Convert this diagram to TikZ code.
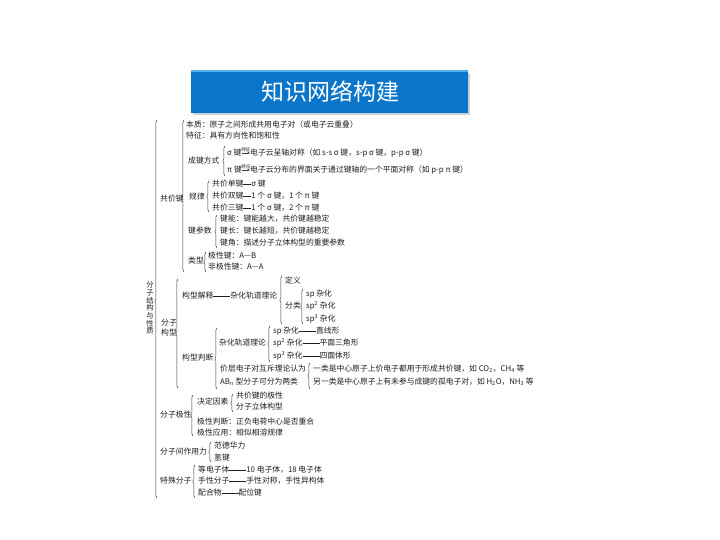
\documentclass[tikz,border=0pt]{standalone}
\usepackage{fontspec}
\newfontfamily\cjk{Noto Sans CJK SC}
\usetikzlibrary{decorations.pathreplacing,arrows.meta}
\definecolor{txt}{HTML}{1E1E1E}
\definecolor{ln}{HTML}{3A3A3A}
\definecolor{bar}{HTML}{0B76C9}
\definecolor{barhi}{HTML}{52AEEE}
\newcommand\dl[1][17pt]{\rule[0.3em]{#1}{0.45pt}}
\newcommand\brc[4][0.5]{\draw[draw=ln,line width=0.5pt,decorate,decoration={brace,amplitude=2.2pt,aspect=#1}] (#2,#4) -- (#2,#3);}
\begin{document}
\begin{tikzpicture}[x=1pt,y=-1pt,
  t/.style={anchor=west,inner sep=0pt,text=txt,font=\cjk\fontsize{7.8}{9}\selectfont},
  tiny/.style={inner sep=0pt,text=txt,font=\cjk\fontsize{4.6}{5}\selectfont},
  arr/.style={draw=ln,line width=0.45pt,-{Stealth[length=2.6pt,width=2.2pt]}}
]
\useasboundingbox (0,0) rectangle (720,540);
% title bar
\fill[black!30,opacity=0.6] (193,73) rectangle (470,115);
\fill[bar] (191,70) rectangle (468,113);
\fill[barhi] (191,70) rectangle (468,72.5);
\node[inner sep=0pt,text=white,font=\cjk\fontsize{23}{25}\selectfont] (title) at (330,92) {知识网络构建};

% root
\node[inner sep=0pt,text=txt,align=center,font=\cjk\fontsize{7.3}{7.7}\selectfont] (root) at (150,308) {分\\子\\结\\构\\与\\性\\质};
\brc[0.52]{157}{120}{498}

% level 1
\node[t] (gjj) at (160,199) {共价键};
\brc{184}{120}{272}
\node[t,align=left,font=\cjk\fontsize{7.8}{9.5}\selectfont] (fzgx) at (161,327.5) {分子\\构型};
\brc{178}{279}{388}
\node[t] (fzjx) at (160,415) {分子极性};
\brc{193}{395}{436}
\node[t] (fzj) at (160,452) {分子间作用力};
\brc{211}{442}{462}
\node[t] (tsfz) at (160,481) {特殊分子};
\brc{195}{465}{498}

% 共价键
\node[t] (bz) at (186,125) {本质：原子之间形成共用电子对（或电子云重叠）};
\node[t] (tz) at (186,136) {特征：具有方向性和饱和性};
\node[t] (cj) at (188,161) {成键方式};
\brc{225}{146}{176}
\node[t] (sg) at (227,153) {σ 键};
\node[t] (sgd) at (250,153) {电子云呈轴对称（如 s-s σ 键，s-p σ 键，p-p σ 键）};
\draw[arr] (sg.east) -- node[tiny,above=1.2pt] {特征} (sgd.west);
\node[t] (pi) at (227,170) {π 键};
\node[t] (pid) at (250,170) {电子云分布的界面关于通过键轴的一个平面对称（如 p-p π 键）};
\draw[arr] (pi.east) -- node[tiny,above=1.2pt] {特征} (pid.west);

\node[t] (gl) at (189,197) {规律};
\brc{209}{181}{212}
\node[t] (r1) at (212,184) {共价单键\dl[8pt]σ 键};
\node[t] (r2) at (212,196) {共价双键\dl[8pt]1 个 σ 键，1 个 π 键};
\node[t] (r3) at (212,208) {共价三键\dl[8pt]1 个 σ 键，2 个 π 键};

\node[t] (jcs) at (188,231) {键参数};
\brc{217}{215}{248}
\node[t] (p1) at (220,219) {键能：键能越大，共价键越稳定};
\node[t] (p2) at (220,231) {键长：键长越短，共价键越稳定};
\node[t] (p3) at (220,243) {键角：描述分子立体构型的重要参数};

\node[t] (lx) at (188,261) {类型};
\brc{206}{252}{272}
\node[t] (k1) at (208,256) {极性键：A—B};
\node[t] (k2) at (208,267) {非极性键：A—A};

% 分子构型
\node[t] (gxjs) at (182,296) {构型解释\dl 杂化轨道理论};
\brc{282}{276}{324}
\node[t] (dy) at (285,281) {定义};
\node[t] (fl) at (285,306) {分类};
\brc{303}{289}{324}
\node[t] (h1) at (306,294) {sp 杂化};
\node[t] (h2) at (306,306) {sp\textsuperscript{2} 杂化};
\node[t] (h3) at (306,319) {sp\textsuperscript{3} 杂化};

\node[t] (gxpd) at (182,358) {构型判断};
\brc{217}{328}{389}
\node[t] (zh) at (219,343) {杂化轨道理论};
\brc{270}{326}{362}
\node[t] (z1) at (273,331) {sp 杂化\dl 直线形};
\node[t] (z2) at (273,343) {sp\textsuperscript{2} 杂化\dl 平面三角形};
\node[t] (z3) at (273,356) {sp\textsuperscript{3} 杂化\dl 四面体形};
\node[t] (vs1) at (220,369) {价层电子对互斥理论认为};
\node[t] (vs2) at (220,382) {AB\textsubscript{n} 型分子可分为两类};
\brc{310}{363}{389}
\node[t] (c1) at (313,369) {一类是中心原子上价电子都用于形成共价键，如 CO\textsubscript{2}，CH\textsubscript{4} 等};
\node[t] (c2) at (313,382) {另一类是中心原子上有未参与成键的孤电子对，如 H\textsubscript{2}O，NH\textsubscript{3} 等};

% 分子极性
\node[t] (jd) at (197,402) {决定因素};
\brc{233}{394}{412}
\node[t] (jd1) at (236,396) {共价键的极性};
\node[t] (jd2) at (236,407) {分子立体构型};
\node[t] (pd) at (197,422) {极性判断：正负电荷中心是否重合};
\node[t] (yy) at (197,433) {极性应用：相似相溶规律};

% 分子间作用力
\node[t] (fdw) at (214,446) {范德华力};
\node[t] (qj) at (214,458) {氢键};

% 特殊分子
\node[t] (s1) at (198,470) {等电子体\dl 10 电子体，18 电子体};
\node[t] (s2) at (198,481) {手性分子\dl 手性对称，手性异构体};
\node[t] (s3) at (198,493) {配合物\dl 配位键};
\end{tikzpicture}
\end{document}
